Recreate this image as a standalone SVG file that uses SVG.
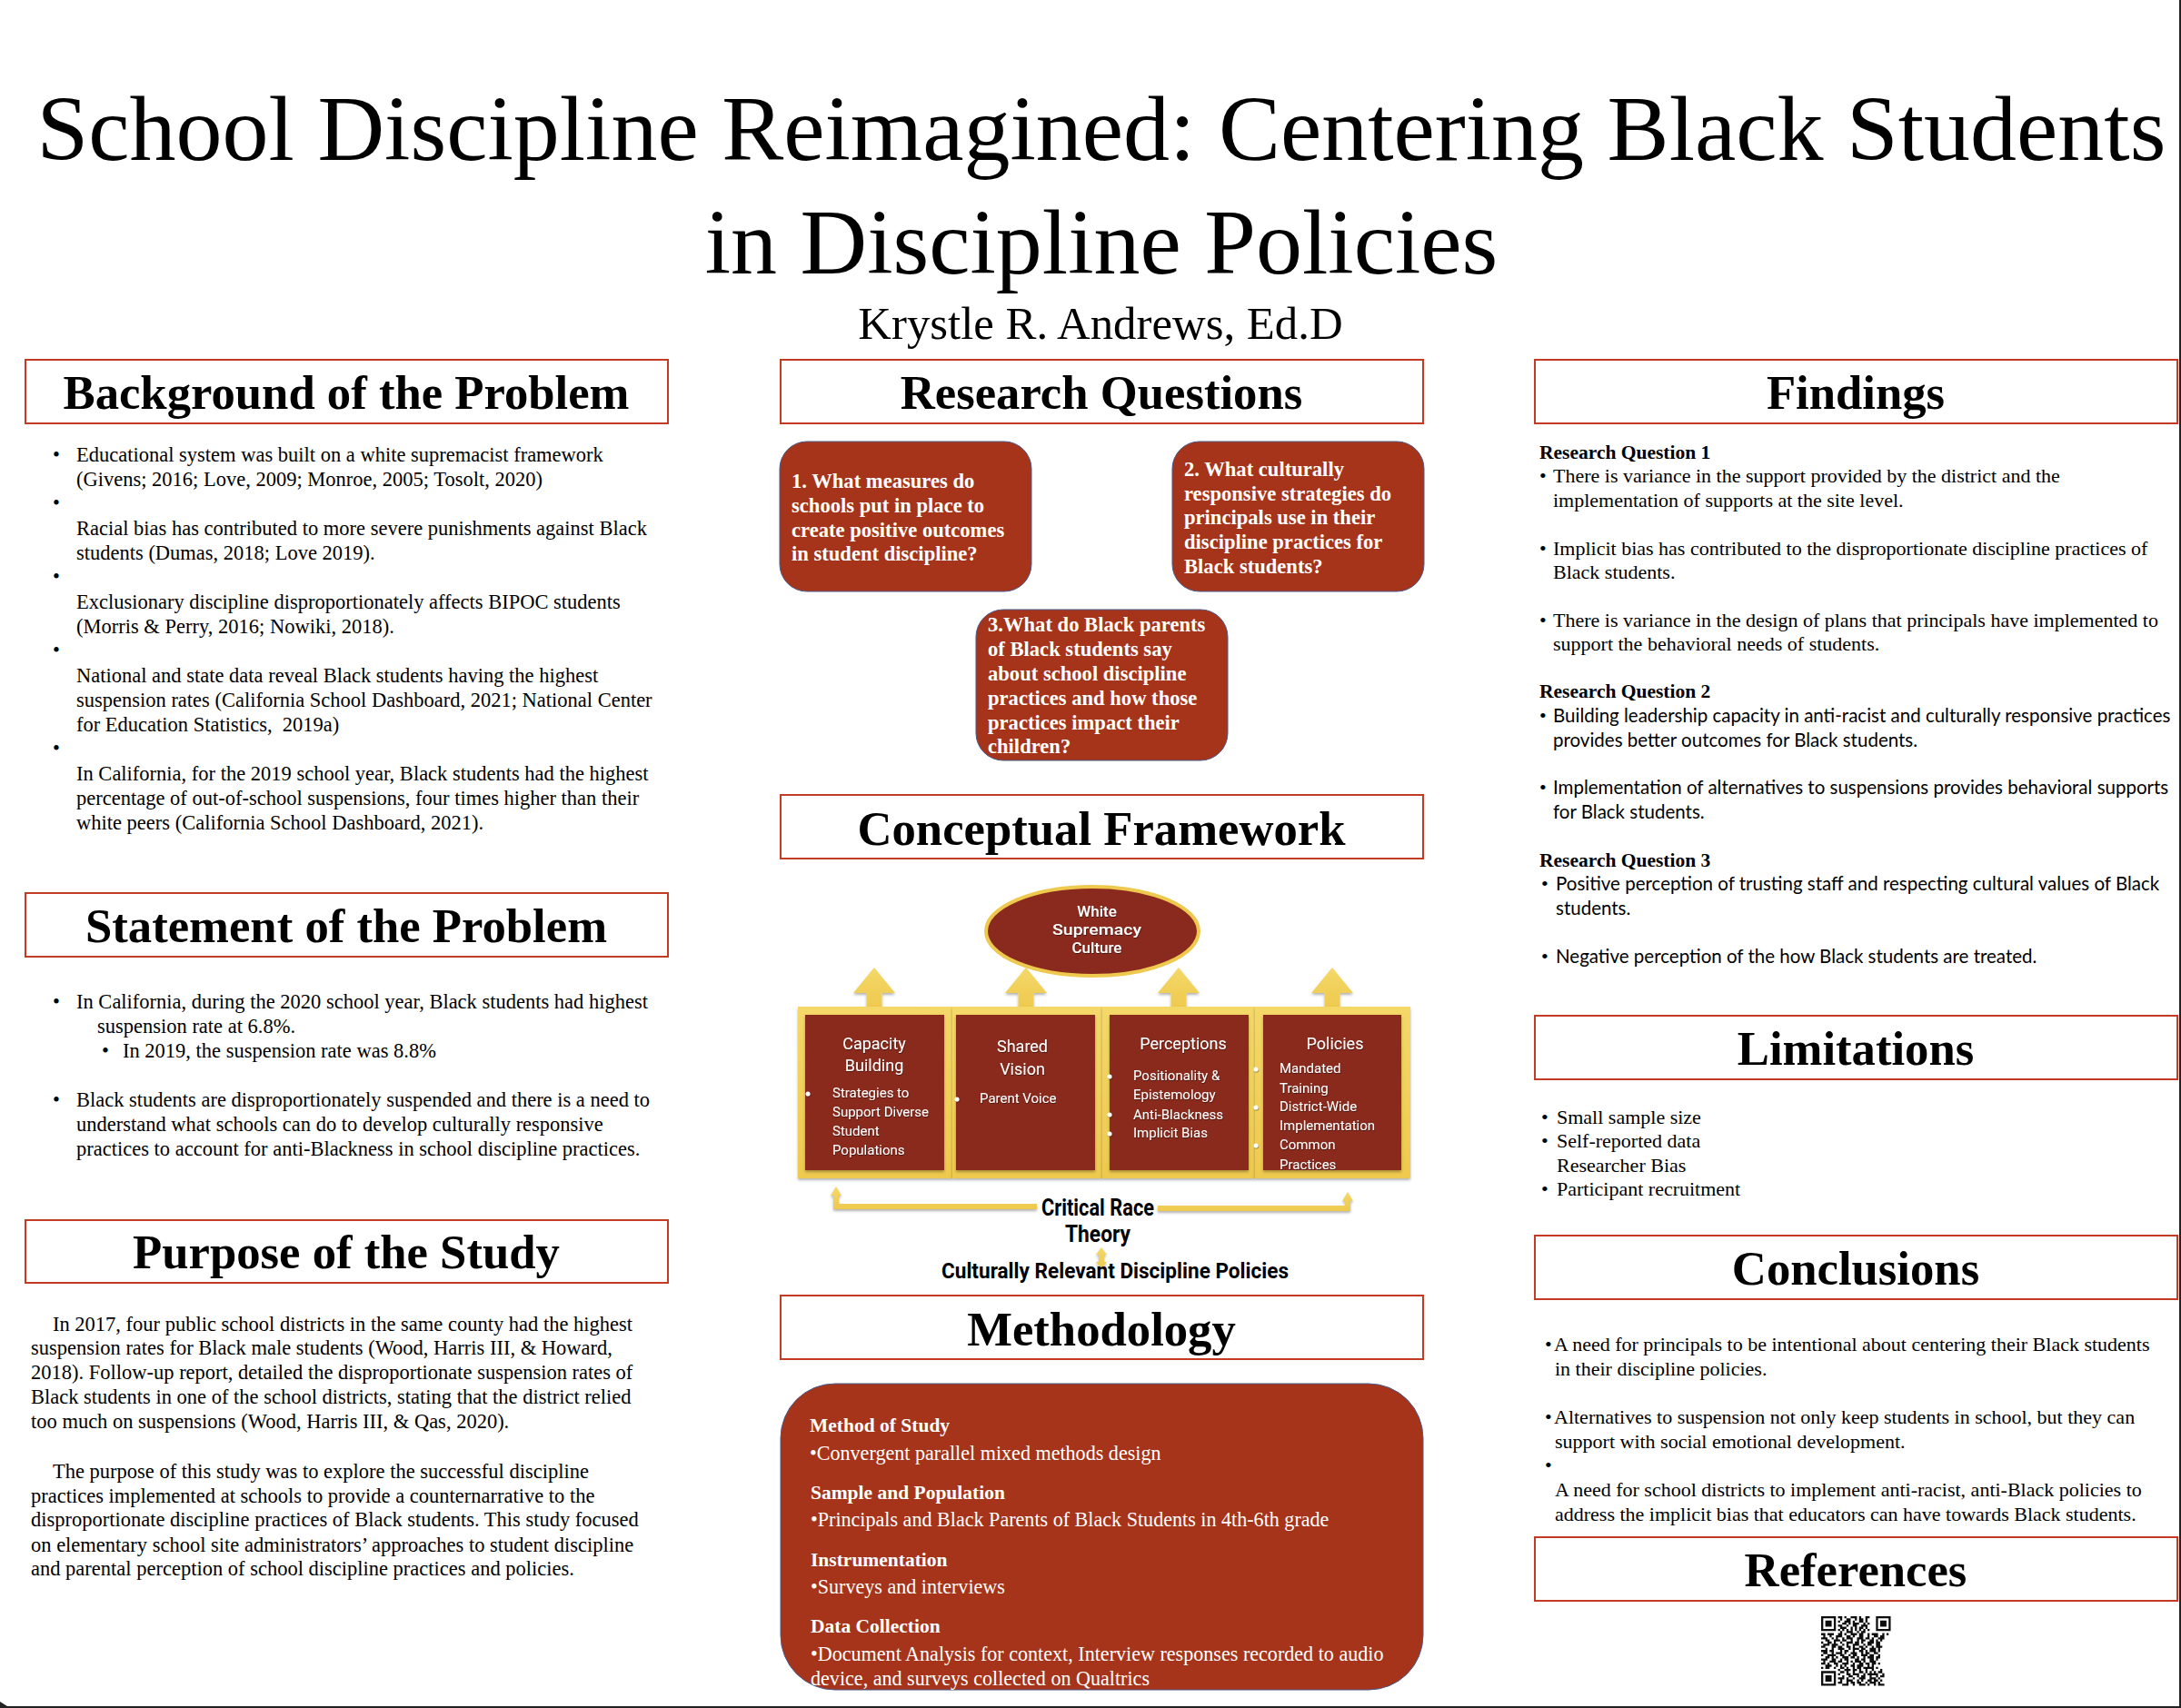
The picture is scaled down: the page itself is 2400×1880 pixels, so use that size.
<svg xmlns="http://www.w3.org/2000/svg" width="2400" height="1880" viewBox="0 0 2400 1880">
<defs>
<filter id="sh" x="-5%" y="-5%" width="110%" height="110%"><feDropShadow dx="0" dy="2" stdDeviation="1.5" flood-color="#000" flood-opacity="0.3"/></filter>
<filter id="ts" x="-5%" y="-5%" width="110%" height="110%"><feDropShadow dx="0.5" dy="1" stdDeviation="0.7" flood-color="#000" flood-opacity="0.5"/></filter>
<filter id="bl" x="-5%" y="-5%" width="110%" height="110%"><feGaussianBlur stdDeviation="0.25"/></filter>
<linearGradient id="gold" x1="0" y1="0" x2="0" y2="1"><stop offset="0" stop-color="#F4D868"/><stop offset="1" stop-color="#EEC94E"/></linearGradient>
</defs>
<style>
text{font-family:"Liberation Serif",serif;fill:#000}
.title{font-size:102px;text-anchor:middle}
.author{font-size:50.800px;text-anchor:middle}
.hbox{fill:#fff;stroke:#C23B22;stroke-width:2}
.h{font-size:52.700px;font-weight:700;text-anchor:middle}
.b{font-size:22.500px}
.b2{font-size:22px}
.bh{font-size:21.500px;font-weight:700}
.c{font-family:"Lato",sans-serif;font-size:20.500px}
.rq{fill:#A5341A;stroke:#4A5A8A;stroke-width:1}
.rqt{font-size:22.600px;font-weight:700;fill:#fff}
.mt{font-size:22.100px;fill:#fff}
.mb{font-size:21.500px;font-weight:700;fill:#fff}
.y{fill:url(#gold)}
.r{fill:#8A2A1E}
.f{font-family:"Roboto",sans-serif;fill:#fff;font-size:15px}
.ft{font-family:"Roboto",sans-serif;fill:#fff;font-size:18px;text-anchor:middle}
.el{font-family:"Roboto",sans-serif;font-weight:500;fill:#fff;font-size:17px;text-anchor:middle}
.k{font-family:"Roboto",sans-serif;font-weight:700;font-size:25px;text-anchor:middle}
</style>
<rect width="2400" height="1880" fill="#fff"/>
<path d="M2398 0H2400V1880H0V1878H2398ZM0 1873L8 1878H0Z" fill="#222"/>
<g id="title">
<text class="title" x="1212" y="176">School Discipline Reimagined: Centering Black Students</text>
<text class="title" x="1212" y="301">in Discipline Policies</text>
<text class="author" x="1211" y="373">Krystle R. Andrews, Ed.D</text>
</g>
<g id="background">
<rect class="hbox" x="28" y="396" width="707" height="70"/>
<text class="h" x="381" y="450">Background of the Problem</text>
<text class="b" x="58" y="508">•</text><text class="b" x="84" y="508">Educational system was built on a white supremacist framework</text>
<text class="b" x="84" y="535">(Givens; 2016; Love, 2009; Monroe, 2005; Tosolt, 2020)</text>
<text class="b" x="58" y="561">•</text>
<text class="b" x="84" y="589">Racial bias has contributed to more severe punishments against Black</text>
<text class="b" x="84" y="616">students (Dumas, 2018; Love 2019).</text>
<text class="b" x="58" y="642">•</text>
<text class="b" x="84" y="670">Exclusionary discipline disproportionately affects BIPOC students</text>
<text class="b" x="84" y="697">(Morris &amp; Perry, 2016; Nowiki, 2018).</text>
<text class="b" x="58" y="723">•</text>
<text class="b" x="84" y="751">National and state data reveal Black students having the highest</text>
<text class="b" x="84" y="778">suspension rates (California School Dashboard, 2021; National Center</text>
<text class="b" x="84" y="805" xml:space="preserve">for Education Statistics,  2019a)</text>
<text class="b" x="58" y="831">•</text>
<text class="b" x="84" y="859">In California, for the 2019 school year, Black students had the highest</text>
<text class="b" x="84" y="886">percentage of out-of-school suspensions, four times higher than their</text>
<text class="b" x="84" y="913">white peers (California School Dashboard, 2021).</text>
</g>
<g id="statement">
<rect class="hbox" x="28" y="983" width="707" height="70"/>
<text class="h" x="381" y="1037">Statement of the Problem</text>
<text class="b" x="58" y="1110">•</text><text class="b" x="84" y="1110">In California, during the 2020 school year, Black students had highest</text>
<text class="b" x="107" y="1137">suspension rate at 6.8%.</text>
<text class="b" x="112" y="1164">•</text><text class="b" x="135" y="1164">In 2019, the suspension rate was 8.8%</text>
<text class="b" x="58" y="1218">•</text><text class="b" x="84" y="1218">Black students are disproportionately suspended and there is a need to</text>
<text class="b" x="84" y="1245">understand what schools can do to develop culturally responsive</text>
<text class="b" x="84" y="1272">practices to account for anti-Blackness in school discipline practices.</text>
</g>
<g id="purpose">
<rect class="hbox" x="28" y="1343" width="707" height="69"/>
<text class="h" x="381" y="1396">Purpose of the Study</text>
<text class="b" x="58" y="1465">In 2017, four public school districts in the same county had the highest</text>
<text class="b" x="34" y="1491">suspension rates for Black male students (Wood, Harris III, &amp; Howard,</text>
<text class="b" x="34" y="1518">2018). Follow-up report, detailed the disproportionate suspension rates of</text>
<text class="b" x="34" y="1545">Black students in one of the school districts, stating that the district relied</text>
<text class="b" x="34" y="1572">too much on suspensions (Wood, Harris III, &amp; Qas, 2020).</text>
<text class="b" x="58" y="1627">The purpose of this study was to explore the successful discipline</text>
<text class="b" x="34" y="1654">practices implemented at schools to provide a counternarrative to the</text>
<text class="b" x="34" y="1680">disproportionate discipline practices of Black students. This study focused</text>
<text class="b" x="34" y="1708">on elementary school site administrators’ approaches to student discipline</text>
<text class="b" x="34" y="1734">and parental perception of school discipline practices and policies.</text>
</g>
<g id="research-questions">
<rect class="hbox" x="859" y="396" width="707" height="70"/>
<text class="h" x="1212" y="450">Research Questions</text>
</g>
<g id="rq1">
<rect class="rq" x="858" y="486" width="277" height="165" rx="30"/>
<text class="rqt" x="871" y="537">1. What measures do</text>
<text class="rqt" x="871" y="564">schools put in place to</text>
<text class="rqt" x="871" y="591">create positive outcomes</text>
<text class="rqt" x="871" y="617">in student discipline?</text>
</g>
<g id="rq2">
<rect class="rq" x="1290" y="486" width="277" height="165" rx="30"/>
<text class="rqt" x="1303" y="524">2. What culturally</text>
<text class="rqt" x="1303" y="551">responsive strategies do</text>
<text class="rqt" x="1303" y="577">principals use in their</text>
<text class="rqt" x="1303" y="604">discipline practices for</text>
<text class="rqt" x="1303" y="631">Black students?</text>
</g>
<g id="rq3">
<rect class="rq" x="1074" y="671" width="277" height="166" rx="30"/>
<text class="rqt" x="1087" y="695">3.What do Black parents</text>
<text class="rqt" x="1087" y="722">of Black students say</text>
<text class="rqt" x="1087" y="749">about school discipline</text>
<text class="rqt" x="1087" y="776">practices and how those</text>
<text class="rqt" x="1087" y="803">practices impact their</text>
<text class="rqt" x="1087" y="829">children?</text>
</g>
<g id="conceptual-framework">
<rect class="hbox" x="859" y="875" width="707" height="70"/>
<text class="h" x="1212" y="930">Conceptual Framework</text>
</g>
<g id="connectors" fill="url(#gold)" filter="url(#sh)">
<path d="M953.500 1110V1093H939L962 1065L985 1093H970.500V1110Z"/>
<path d="M1120.500 1110V1093H1106L1129 1065L1152 1093H1137.500V1110Z"/>
<path d="M1288.500 1110V1093H1274L1297 1065L1320 1093H1305.500V1110Z"/>
<path d="M1457.500 1110V1093H1443L1466 1065L1489 1093H1474.500V1110Z"/>
<path d="M917 1316H914L920 1306L926 1316H923V1325H1141V1331H917Z"/>
<path d="M1274 1327H1480V1322H1477L1483 1312L1489 1322H1486V1333H1274Z"/>
<path d="M1212 1373L1218 1381H1215V1389H1218L1212 1397L1206 1389H1209V1381H1206Z"/>
</g>
<g id="frames">
<rect class="y" x="878" y="1108" width="170" height="189" filter="url(#sh)"/>
<rect class="y" x="1048" y="1108" width="165" height="189" filter="url(#sh)"/>
<rect class="y" x="1213" y="1108" width="168" height="189" filter="url(#sh)"/>
<rect class="y" x="1381" y="1108" width="171" height="189" filter="url(#sh)"/>
</g>
<g id="white-supremacy">
<ellipse cx="1202" cy="1025" rx="117" ry="49" fill="#8A2A1E" stroke="#EEC94E" stroke-width="4"/>
<g filter="url(#ts)">
<text class="el" x="1207" y="1009">White</text>
<text class="el" x="1207" y="1029" textLength="98" lengthAdjust="spacingAndGlyphs">Supremacy</text>
<text class="el" x="1207" y="1049">Culture</text>
</g>
</g>
<g id="capacity">
<rect class="r" x="886" y="1117" width="153" height="171" filter="url(#sh)"/>
<g filter="url(#ts)">
<text class="ft" x="962" y="1155">Capacity</text><text class="ft" x="962" y="1179">Building</text>
<circle cx="889" cy="1204" r="2.500" fill="#fff"/>
<text class="f" x="916" y="1208">Strategies to</text><text class="f" x="916" y="1229">Support Diverse</text><text class="f" x="916" y="1250">Student</text><text class="f" x="916" y="1271">Populations</text>
</g>
</g>
<g id="shared-vision">
<rect class="r" x="1052" y="1117" width="153" height="171" filter="url(#sh)"/>
<g filter="url(#ts)">
<text class="ft" x="1125" y="1158">Shared</text><text class="ft" x="1125" y="1183">Vision</text>
<circle cx="1053" cy="1210" r="2.500" fill="#fff"/>
<text class="f" x="1078" y="1214">Parent Voice</text>
</g>
</g>
<g id="perceptions">
<rect class="r" x="1221" y="1117" width="153" height="171" filter="url(#sh)"/>
<g filter="url(#ts)">
<text class="ft" x="1302" y="1155">Perceptions</text>
<circle cx="1221" cy="1185" r="2.500" fill="#fff"/><circle cx="1221" cy="1227" r="2.500" fill="#fff"/><circle cx="1221" cy="1248" r="2.500" fill="#fff"/>
<text class="f" x="1247" y="1189">Positionality &amp;</text><text class="f" x="1247" y="1210">Epistemology</text><text class="f" x="1247" y="1232">Anti-Blackness</text><text class="f" x="1247" y="1252">Implicit Bias</text>
</g>
</g>
<g id="policies">
<rect class="r" x="1390" y="1117" width="152" height="171" filter="url(#sh)"/>
<g filter="url(#ts)">
<text class="ft" x="1469" y="1155">Policies</text>
<circle cx="1382" cy="1177" r="2.500" fill="#fff"/><circle cx="1382" cy="1219" r="2.500" fill="#fff"/><circle cx="1382" cy="1261" r="2.500" fill="#fff"/>
<text class="f" x="1408" y="1181">Mandated</text><text class="f" x="1408" y="1203">Training</text><text class="f" x="1408" y="1223">District-Wide</text><text class="f" x="1408" y="1244">Implementation</text><text class="f" x="1408" y="1265">Common</text><text class="f" x="1408" y="1287">Practices</text>
</g>
</g>
<g id="crt">
<text class="k" x="1208" y="1338" textLength="124" lengthAdjust="spacingAndGlyphs">Critical Race</text>
<text class="k" x="1208" y="1367" textLength="72" lengthAdjust="spacingAndGlyphs">Theory</text>
<text class="k" x="1227" y="1407" style="font-size:23px" textLength="382" lengthAdjust="spacingAndGlyphs">Culturally Relevant Discipline Policies</text>
</g>
<g id="methodology">
<rect class="hbox" x="859" y="1426" width="707" height="70"/>
<text class="h" x="1212" y="1481">Methodology</text>
<rect class="rq" x="859" y="1523" width="707" height="337" rx="60"/>
<text class="mb" x="891" y="1576">Method of Study</text>
<text class="mt" x="891" y="1607">•Convergent parallel mixed methods design</text>
<text class="mb" x="892" y="1650">Sample and Population</text>
<text class="mt" x="892" y="1680">•Principals and Black Parents of Black Students in 4th-6th grade</text>
<text class="mb" x="892" y="1724">Instrumentation</text>
<text class="mt" x="892" y="1754">•Surveys and interviews</text>
<text class="mb" x="892" y="1797">Data Collection</text>
<text class="mt" x="892" y="1828">•Document Analysis for context, Interview responses recorded to audio</text>
<text class="mt" x="892" y="1855">device, and surveys collected on Qualtrics</text>
</g>
<g id="findings">
<rect class="hbox" x="1689" y="396" width="707" height="70"/>
<text class="h" x="2042" y="450">Findings</text>
<text class="bh" x="1694" y="505">Research Question 1</text>
<text class="b2" x="1694" y="531">•</text><text class="b2" x="1709" y="531">There is variance in the support provided by the district and the</text>
<text class="b2" x="1709" y="558">implementation of supports at the site level.</text>
<text class="b2" x="1694" y="611">•</text><text class="b2" x="1709" y="611">Implicit bias has contributed to the disproportionate discipline practices of</text>
<text class="b2" x="1709" y="637">Black students.</text>
<text class="b2" x="1694" y="690">•</text><text class="b2" x="1709" y="690">There is variance in the design of plans that principals have implemented to</text>
<text class="b2" x="1709" y="716">support the behavioral needs of students.</text>
<text class="bh" x="1694" y="768">Research Question 2</text>
<text class="b2" x="1694" y="795">•</text><text class="c" x="1709" y="795">Building leadership capacity in anti-racist and culturally responsive practices</text>
<text class="c" x="1709" y="822">provides better outcomes for Black students.</text>
<text class="b2" x="1694" y="874">•</text><text class="c" x="1709" y="874">Implementation of alternatives to suspensions provides behavioral supports</text>
<text class="c" x="1709" y="901">for Black students.</text>
<text class="bh" x="1694" y="954">Research Question 3</text>
<text class="b2" x="1696" y="980">•</text><text class="c" x="1712" y="980">Positive perception of trusting staff and respecting cultural values of Black</text>
<text class="c" x="1712" y="1007">students.</text>
<text class="b2" x="1696" y="1060">•</text><text class="c" x="1712" y="1060">Negative perception of the how Black students are treated.</text>
</g>
<g id="limitations">
<rect class="hbox" x="1689" y="1118" width="707" height="70"/>
<text class="h" x="2042" y="1172">Limitations</text>
<text class="b2" x="1696" y="1237">•</text><text class="b2" x="1713" y="1237">Small sample size</text>
<text class="b2" x="1696" y="1263">•</text><text class="b2" x="1713" y="1263">Self-reported data</text>
<text class="b2" x="1713" y="1290">Researcher Bias</text>
<text class="b2" x="1696" y="1316">•</text><text class="b2" x="1713" y="1316">Participant recruitment</text>
</g>
<g id="conclusions">
<rect class="hbox" x="1689" y="1360" width="707" height="70"/>
<text class="h" x="2042" y="1414">Conclusions</text>
<text class="b2" x="1700" y="1487">•</text><text class="b2" x="1710" y="1487">A need for principals to be intentional about centering their Black students</text>
<text class="b2" x="1711" y="1514">in their discipline policies.</text>
<text class="b2" x="1700" y="1567">•</text><text class="b2" x="1710" y="1567">Alternatives to suspension not only keep students in school, but they can</text>
<text class="b2" x="1711" y="1594">support with social emotional development.</text>
<text class="b2" x="1700" y="1620">•</text>
<text class="b2" x="1711" y="1647">A need for school districts to implement anti-racist, anti-Black policies to</text>
<text class="b2" x="1711" y="1674">address the implicit bias that educators can have towards Black students.</text>
</g>
<g id="references">
<rect class="hbox" x="1689" y="1692" width="707" height="70"/>
<text class="h" x="2042" y="1746">References</text>
<g id="qr" transform="translate(2004 1779) scale(2.320)" filter="url(#bl)">
<path fill="#111" fill-rule="evenodd" d="M0 0h7v7h-7zM1 1v5h5v-5zM2 2h3v3h-3zM26 0h7v7h-7zM27 1v5h5v-5zM28 2h3v3h-3zM0 26h7v7h-7zM1 27v5h5v-5zM2 28h3v3h-3z"/>
<path fill="none" stroke="#111" stroke-width="1" d="M8 .5h2m1 0h1m2 0h3m1 0h1m2 0h2M9 1.500h1m2 0h2m2 0h1m1 0h2m1 0h1M8 2.500h1m2 0h3m1 0h1m2 0h2m1 0h1M10 3.500h2m1 0h1m1 0h3m2 0h1m1 0h1M8 4.500h2m2 0h1m2 0h2m2 0h3M9 5.500h3m2 0h1m1 0h1m1 0h2m1 0h1M8 6.500h1m1 0h1m1 0h1m1 0h1m1 0h1m1 0h1m1 0h1m1 0h1M9 7.500h1m2 0h3m2 0h1m1 0h2M0 8.500h2m1 0h3m2 0h2m1 0h1m2 0h3m1 0h2m2 0h1m1 0h3m2 0h1m1 0h1M1 9.500h1m2 0h1m2 0h3m2 0h2m1 0h1m2 0h2m2 0h1m2 0h2m1 0h2M0 10.500h3m2 0h1m1 0h1m2 0h1m1 0h3m2 0h3m1 0h2m1 0h1m2 0h3M2 11.500h2m2 0h3m1 0h2m2 0h1m2 0h1m1 0h2m2 0h2m1 0h1m1 0h1M0 12.500h1m2 0h2m1 0h1m2 0h1m2 0h3m1 0h2m1 0h1m2 0h3m1 0h2M1 13.500h3m1 0h3m2 0h1m1 0h1m2 0h3m2 0h1m1 0h2m2 0h2M0 14.500h2m3 0h2m1 0h2m2 0h2m1 0h1m2 0h2m1 0h1m2 0h1m1 0h3M2 15.500h1m2 0h1m2 0h3m2 0h1m1 0h3m1 0h2m2 0h3m1 0h1M0 16.500h3m1 0h2m3 0h1m1 0h2m2 0h1m2 0h2m1 0h1m1 0h3m1 0h1M1 17.500h2m2 0h1m1 0h3m1 0h1m2 0h3m2 0h1m1 0h2m2 0h2M0 18.500h1m2 0h4m2 0h2m2 0h1m1 0h2m2 0h3m1 0h2m2 0h1M2 19.500h2m1 0h1m1 0h1m2 0h3m1 0h2m1 0h1m2 0h1m1 0h3m1 0h2M0 20.500h3m2 0h2m2 0h1m1 0h2m3 0h2m1 0h2m2 0h2m1 0h1M1 21.500h1m2 0h3m1 0h2m2 0h1m1 0h1m1 0h3m1 0h1m2 0h3M0 22.500h2m1 0h1m2 0h2m2 0h3m2 0h1m2 0h2m1 0h2m1 0h2m1 0h1M2 23.500h3m2 0h1m1 0h1m1 0h1m2 0h2m1 0h3m2 0h1m1 0h1M0 24.500h1m1 0h2m2 0h1m2 0h2m1 0h1m2 0h1m1 0h2m1 0h5m1 0h1M8 25.500h1m2 0h3m1 0h2m1 0h1m2 0h1m2 0h1m3 0h1M9 26.500h2m1 0h1m2 0h1m2 0h2m1 0h1m1 0h1m1 0h1m1 0h2M8 27.500h1m3 0h2m1 0h3m2 0h1m1 0h5m2 0h1M10 28.500h1m2 0h2m2 0h1m1 0h2m2 0h1m2 0h1m1 0h2M8 29.500h3m1 0h1m2 0h1m2 0h3m2 0h3m1 0h1M9 30.500h1m2 0h3m2 0h1m1 0h1m2 0h2m1 0h2m1 0h1M8 31.500h2m2 0h1m1 0h2m1 0h2m2 0h1m1 0h3m1 0h1M10 32.500h3m2 0h1m2 0h3m1 0h1m2 0h1m1 0h3"/>
</g>
</g>
</svg>
